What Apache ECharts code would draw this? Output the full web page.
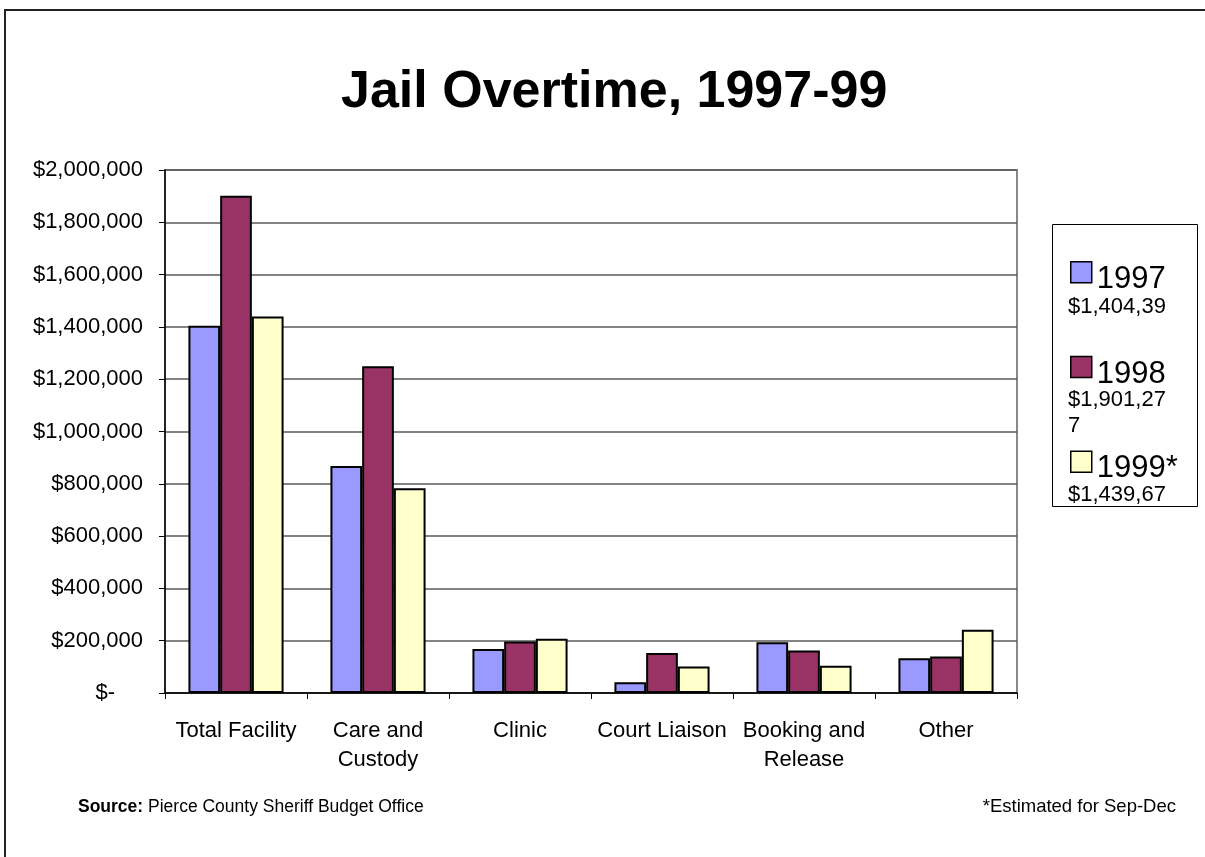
<!DOCTYPE html>
<html>
<head>
<meta charset="utf-8">
<script src="https://cdn.jsdelivr.net/npm/echarts@6/dist/echarts.min.js"></script>
<style>
html,body{margin:0;padding:0;background:#fff;}
#chart{width:1205px;height:857px;}
</style>
</head>
<body>
<div id="chart"></div>
<script>
const titleText = 'Jail Overtime, 1997-99';
const categories = ['Total Facility', 'Care and\nCustody', 'Clinic', 'Court Liaison', 'Booking and\nRelease', 'Other'];
const seriesNames = ['1997', '1998', '1999*'];
const values1997 = [1404390, 868000, 168000, 41000, 194000, 133000];
const values1998 = [1901277, 1250000, 197000, 152500, 162500, 139500];
const values1999 = [1439670, 783000, 207500, 101500, 104000, 242000];
const legendValueText = ['$1,404,39', '$1,901,27\n7', '$1,439,67'];
const yTicks = [0, 200000, 400000, 600000, 800000, 1000000, 1200000, 1400000, 1600000, 1800000, 2000000];
const sourceLabel = 'Source:';
const sourceText = ' Pierce County Sheriff Budget Office';
const noteText = '*Estimated for Sep-Dec';

const FONT = '"Liberation Sans", Arial, sans-serif';
const colors = ['#9999FF', '#993366', '#FFFFCC'];
const allValues = [values1997, values1998, values1999];

const chart = echarts.init(document.getElementById('chart'), null, {renderer: 'canvas'});

const series = seriesNames.map((n, i) => ({
  name: n,
  type: 'bar',
  data: allValues[i],
  barGap: '0%',
  barCategoryGap: '33%',
  itemStyle: {color: colors[i], borderColor: '#000', borderWidth: 2},
  emphasis: {disabled: true},
  z: 3
}));

const legendTextTop = [294, 387, 482];
const graphics = [
  {type: 'rect', shape: {x: 5, y: 10, width: 1300, height: 1000}, style: {fill: 'none', stroke: '#222', lineWidth: 2}, silent: true, z: 1},
  {type: 'rect', shape: {x: 1052.5, y: 224.5, width: 145, height: 282}, style: {fill: 'none', stroke: '#000', lineWidth: 1}, silent: true, z: 20},
  {type: 'text', x: 78, y: 807, style: {text: '{b|' + sourceLabel + '}{n|' + sourceText + '}', verticalAlign: 'middle', rich: {b: {fontFamily: FONT, fontSize: 17.5, fontWeight: 'bold', fill: '#000'}, n: {fontFamily: FONT, fontSize: 17.5, fill: '#000'}}}, z: 10},
  {type: 'text', x: 1176, y: 807, style: {text: noteText, align: 'right', verticalAlign: 'middle', fontFamily: FONT, fontSize: 18.5, fill: '#000'}, z: 10}
];
legendValueText.forEach((t, i) => {
  graphics.push({type: 'text', x: 1068, y: legendTextTop[i], style: {text: t, verticalAlign: 'top', fontFamily: FONT, fontSize: 22, lineHeight: 26, fill: '#000'}, z: 10});
});
// clip below legend box
graphics.push({type: 'rect', shape: {x: 1053, y: 507, width: 144, height: 20}, style: {fill: '#fff'}, silent: true, z: 15});

const option = {
  animation: false,
  backgroundColor: '#fff',
  title: {
    text: titleText,
    left: 336,
    top: 62,
    textStyle: {fontFamily: FONT, fontSize: 52, fontWeight: 'bold', color: '#000'}
  },
  legend: {
    show: true,
    orient: 'vertical',
    left: 1070,
    top: 261,
    padding: 0,
    itemWidth: 21,
    itemHeight: 21,
    itemGap: 61,
    icon: 'rect',
    formatter: name => '{n|' + name + '}',
    textStyle: {
      fontFamily: FONT, fontSize: 31, color: '#000',
      rich: {n: {fontFamily: FONT, fontSize: 31, color: '#000', padding: [14, 0, 0, 0]}}
    },
    itemStyle: {borderColor: '#000', borderWidth: 1.5},
    selectedMode: false,
    data: seriesNames
  },
  grid: {
    left: 165, right: 188, top: 170, bottom: 164,
    show: true, borderColor: '#888', borderWidth: 2, backgroundColor: 'transparent'
  },
  xAxis: {
    type: 'category',
    data: categories,
    axisLine: {lineStyle: {color: '#000', width: 1.5}},
    axisTick: {show: true, length: 6, lineStyle: {color: '#000', width: 1}},
    axisLabel: {fontFamily: FONT, fontSize: 22, color: '#000', margin: 23, lineHeight: 29, interval: 0}
  },
  yAxis: {
    type: 'value',
    min: yTicks[0],
    max: yTicks[yTicks.length - 1],
    interval: yTicks[1] - yTicks[0],
    axisLine: {show: true, lineStyle: {color: '#000', width: 1.5}},
    axisTick: {show: true, length: 6, lineStyle: {color: '#000', width: 1}},
    splitLine: {show: true, lineStyle: {color: '#5a5a5a', width: 1.6}},
    axisLabel: {
      fontFamily: FONT, fontSize: 22, color: '#000', margin: 22,
      formatter: v => v === 0 ? '{z|$-}' : '$' + v.toLocaleString('en-US'),
      rich: {z: {fontFamily: FONT, fontSize: 22, color: '#000', padding: [0, 28, 0, 0]}}
    }
  },
  graphic: graphics,
  series: series
};
chart.setOption(option);
</script>
</body>
</html>
